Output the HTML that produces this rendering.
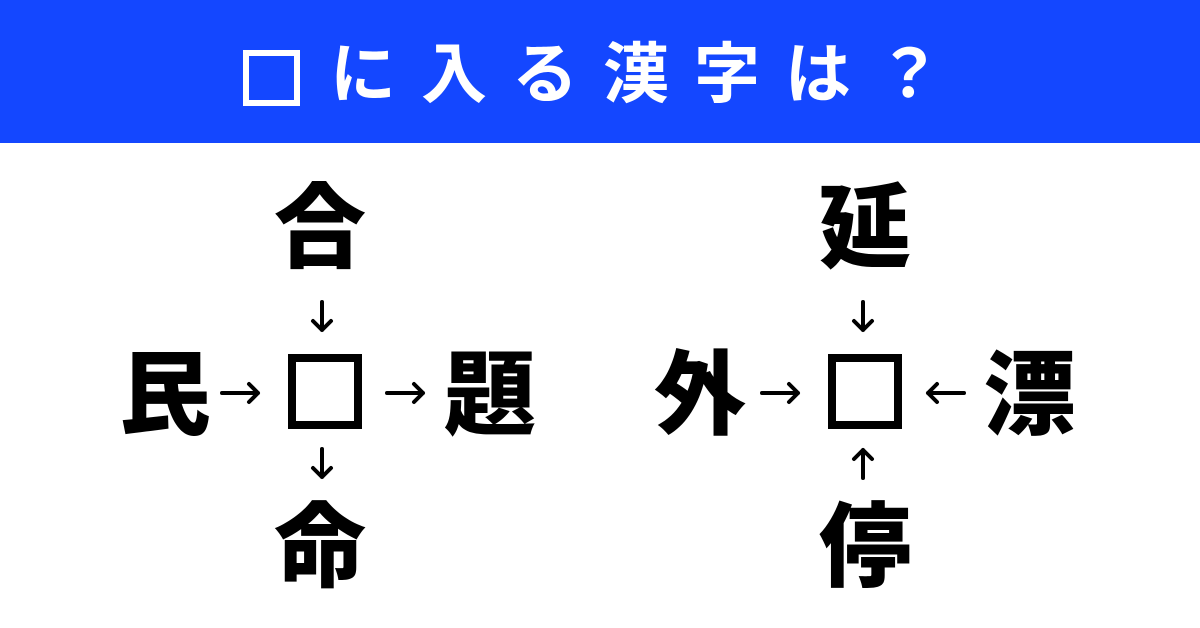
<!DOCTYPE html>
<html><head><meta charset="utf-8"><style>
body{margin:0;width:1200px;height:628px;background:#fff;position:relative;overflow:hidden;font-family:"Liberation Sans","Noto Sans CJK JP",sans-serif}
.hd{position:absolute;left:0;top:0;width:1200px;height:143px;background:#1447ff}
.ht{position:absolute;left:330px;top:34px;color:#fff;font-size:66px;font-weight:bold;line-height:80px;letter-spacing:25px;white-space:nowrap}
.hb{position:absolute;left:243px;top:50px;width:45px;height:44px;border:6px solid #fff}
.k{position:absolute;font-size:92px;font-weight:900;line-height:1;width:100px;text-align:center;color:#000}
.b{position:absolute;width:58px;height:59px;border:8px solid #000}
svg{position:absolute;left:0;top:0}
</style></head><body>
<div class="hd"></div>
<div class="hb"></div>
<div class="ht">に入る漢字は？</div>
<div class="k" style="left:270px;top:183px">合</div>
<div class="k" style="left:115px;top:350px">民</div>
<div class="k" style="left:440px;top:350px">題</div>
<div class="k" style="left:270px;top:502px">命</div>
<div class="b" style="left:288px;top:354px"></div>

<div class="k" style="left:815px;top:183px">延</div>
<div class="k" style="left:650px;top:350px">外</div>
<div class="k" style="left:980px;top:350px">漂</div>
<div class="k" style="left:815px;top:502px">停</div>
<div class="b" style="left:828px;top:354px"></div>
<svg width="1200" height="628" fill="none" stroke="#000" stroke-width="4" stroke-linecap="round" stroke-linejoin="round">
<path d="M322 302V330M313 321L322 330L331 321"/>
<path d="M322 449V477M313 468L322 477L331 468"/>
<path d="M222 393H258M249 384L258 393L249 402"/>
<path d="M387 393H423M414 384L423 393L414 402"/>
<path d="M863 302V330M854 321L863 330L872 321"/>
<path d="M863 478V450M854 459L863 450L872 459"/>
<path d="M762 393H798M789 384L798 393L789 402"/>
<path d="M964 393H928M937 384L928 393L937 402"/>
</svg>
</body></html>
